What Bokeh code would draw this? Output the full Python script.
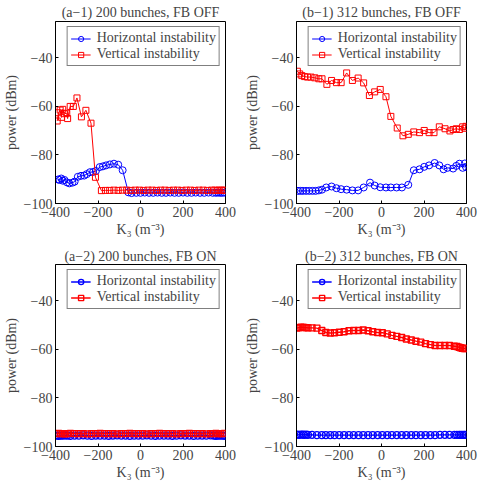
from bokeh.plotting import figure
from bokeh.layouts import column, row
from bokeh.models import Range1d, FixedTicker
from bokeh.embed import file_html
from bokeh.resources import INLINE

FONT = "Liberation Serif"

# ---------------- data ----------------
titles = ["(a\u22121) 200 bunches, FB OFF", "(b\u22121) 312 bunches, FB OFF",
          "(a\u22122) 200 bunches, FB ON", "(b\u22122) 312 bunches, FB ON"]
series_names = ["Horizontal instability", "Vertical instability"]

x_ticks = [-400, -200, 0, 200, 400]
x_tick_labels = ["\u2212400", "\u2212200", "0", "200", "400"]
y_ticks = [-100, -80, -60, -40]
y_tick_labels = ["\u2212100", "\u221280", "\u221260", "\u221240"]
x_label = "K\u2083 (m\u207b\u00b3)"
y_label = "power (dBm)"

# (a-1) 200 bunches, FB OFF
a1_h_k = [-388, -381, -373, -366, -358, -346, -335, -320, -310, -295, -280, -265,
          -253, -238, -223, -210, -192, -177, -162, -144, -125, -105, -84, -57,
          -42, -20, 0, 20, 40, 60, 80, 100, 120, 140, 160, 180, 200, 220, 240,
          260, 280, 300, 320, 340, 355, 365, 375, 385, 395]
a1_h_p = [-90.1, -90.3, -89.7, -90.6, -90.3, -91.3, -91.7, -91.4, -91.0, -89.0,
          -88.6, -88.5, -87.9, -87.1, -87.0, -86.6, -85.0, -84.7, -84.3, -83.9,
          -83.6, -84.0, -86.3, -95.4, -95.7, -95.6, -95.6, -95.5, -95.6, -95.6,
          -95.5, -95.6, -95.6, -95.5, -95.6, -95.6, -95.5, -95.6, -95.6, -95.5,
          -95.6, -95.6, -95.5, -95.6, -95.6, -95.5, -95.6, -95.6, -95.5]
a1_v_k = [-392, -386, -378, -372, -366, -358, -347, -343, -331, -316, -299, -278,
          -257, -233, -212, -184, -165, -145, -125, -105, -85, -65, -45, -25, -5,
          15, 35, 55, 75, 95, 115, 135, 155, 175, 195, 215, 235, 255, 275, 295,
          315, 335, 350, 360, 370, 380, 390, 397]
a1_v_p = [-66.0, -62.6, -61.5, -64.5, -61.2, -63.0, -62.8, -65.0, -60.0, -60.0,
          -56.5, -64.3, -61.6, -66.9, -89.2, -94.7, -94.6, -94.6, -94.5, -94.6,
          -94.5, -94.5, -94.6, -94.5, -94.5, -94.6, -94.5, -94.5, -94.6, -94.5,
          -94.5, -94.6, -94.5, -94.5, -94.6, -94.5, -94.5, -94.6, -94.5, -94.5,
          -94.6, -94.5, -94.5, -94.6, -94.5, -94.5, -94.6, -94.5]

# (b-1) 312 bunches, FB OFF
b1_h_k = [-393, -381, -370, -355, -340, -325, -310, -295, -280, -260, -235, -212,
          -190, -164, -137, -110, -84, -54, -32, -6, 21, 44, 71, 96, 126, 152,
          179, 201, 224, 250, 272, 292, 311, 337, 352, 367, 382, 392, 398]
b1_h_p = [-94.8, -94.8, -94.8, -94.8, -94.8, -94.8, -94.8, -94.6, -94.3, -93.4,
          -93.0, -93.7, -94.1, -94.3, -94.6, -94.6, -93.4, -91.4, -92.6, -93.3,
          -93.4, -93.4, -93.4, -93.4, -92.3, -86.3, -85.9, -84.9, -84.3, -83.3,
          -84.3, -85.9, -85.3, -85.6, -84.5, -83.6, -85.3, -83.5, -85.0]
b1_v_k = [-396, -385, -375, -362, -348, -332, -314, -295, -280, -257, -235, -212,
          -190, -164, -137, -110, -84, -57, -32, -6, 21, 44, 74, 101, 126, 152,
          179, 201, 224, 247, 272, 299, 322, 337, 352, 367, 382, 392, 398]
b1_v_p = [-45.5, -46.6, -47.3, -47.7, -47.9, -47.9, -48.2, -48.6, -48.6, -50.9,
          -49.3, -50.2, -50.2, -46.2, -49.3, -48.3, -50.3, -55.5, -54.0, -53.0,
          -56.0, -64.1, -68.9, -72.1, -71.5, -70.5, -70.8, -69.9, -70.8, -70.8,
          -68.4, -69.2, -70.1, -69.5, -69.2, -69.5, -68.4, -69.0, -68.2]

# (a-2) 200 bunches, FB ON
a2_k = [-395, -385, -375, -365, -355, -345, -330, -310, -290, -270, -250, -230,
        -210, -190, -170, -150, -130, -110, -90, -70, -50, -30, -10, 10, 30, 50,
        70, 90, 110, 130, 150, 170, 190, 210, 230, 250, 270, 290, 310, 330, 345,
        355, 365, 375, 385, 395]
a2_h_p = [-95.5, -95.6, -95.5, -95.5, -95.4, -95.5, -95.6, -95.5, -95.5, -95.4,
          -95.5, -95.6, -95.5, -95.5, -95.5, -95.6, -95.5, -95.4, -95.5, -95.5,
          -95.6, -95.5, -95.5, -95.5, -95.4, -95.5, -95.6, -95.5, -95.5, -95.5,
          -95.6, -95.5, -95.4, -95.5, -95.5, -95.6, -95.5, -95.5, -95.5, -95.4,
          -95.5, -95.6, -95.5, -95.5, -95.5, -95.6]
a2_v_p = [-94.7, -94.6, -94.7, -94.7, -94.8, -94.7, -94.6, -94.7, -94.7, -94.7,
          -94.8, -94.7, -94.7, -94.6, -94.7, -94.7, -94.7, -94.8, -94.7, -94.7,
          -94.6, -94.7, -94.7, -94.7, -94.8, -94.7, -94.7, -94.6, -94.7, -94.7,
          -94.7, -94.8, -94.7, -94.7, -94.6, -94.7, -94.7, -94.7, -94.8, -94.7,
          -94.7, -94.6, -94.7, -94.7, -94.7, -94.6]

# (b-2) 312 bunches, FB ON
b2_k = [-397, -388, -379, -370, -364, -355, -346, -327, -304, -281, -262, -241,
        -221, -199, -176, -153, -131, -108, -86, -63, -41, -18, 4, 27, 49, 72,
        95, 117, 140, 162, 185, 207, 230, 252, 275, 298, 320, 343, 355, 365, 372,
        380, 388, 395]
b2_h_p = [-95.1, -95.2, -95.1, -95.1, -95.2, -95.1, -95.2, -95.2, -95.3, -95.3,
          -95.3, -95.3, -95.3, -95.3, -95.3, -95.3, -95.3, -95.3, -95.3, -95.3,
          -95.3, -95.3, -95.3, -95.3, -95.3, -95.3, -95.3, -95.3, -95.3, -95.3,
          -95.3, -95.3, -95.3, -95.3, -95.2, -95.2, -95.2, -95.2, -95.2, -95.2,
          -95.2, -95.2, -95.2, -95.2]
b2_v_p = [-51.2, -51.0, -50.8, -50.9, -50.95, -51.0, -51.1, -51.1, -51.2, -52.2,
          -53.0, -53.2, -53.1, -52.9, -52.7, -52.3, -52.2, -52.2, -52.0, -52.3,
          -52.7, -53.0, -53.1, -53.6, -54.2, -54.6, -55.1, -55.7, -56.1, -56.6,
          -57.0, -57.6, -58.0, -58.4, -58.4, -58.4, -58.4, -58.7, -58.8, -59.1,
          -59.3, -59.5, -59.6, -59.6]

H_COLOR = "#0000ff"
V_COLOR = "#ff0000"
FS = "14px"


def make_panel(title, hk, hp, vk, vp, bl, br, bt, bb, fh, tstand, lw):
    p = figure(frame_width=170, frame_height=fh, output_backend="svg",
               toolbar_location=None, x_range=Range1d(-400, 400),
               y_range=Range1d(-100, -25),
               min_border_left=bl, min_border_right=br,
               min_border_top=bt, min_border_bottom=bb)
    p.title.text = title
    p.title.text_font = FONT
    p.title.text_font_size = FS
    p.title.text_font_style = "normal"
    p.title.align = "center"
    p.title.standoff = tstand
    p.xgrid.visible = False
    p.ygrid.visible = False
    p.outline_line_color = "black"
    p.outline_line_width = 1
    p.outline_line_alpha = 1
    p.background_fill_color = "white"
    p.border_fill_color = "white"

    p.line(hk, hp, color=H_COLOR, line_width=lw, legend_label=series_names[0])
    p.scatter(hk, hp, marker="circle", size=7, line_color=H_COLOR,
              fill_color=None, line_width=lw, legend_label=series_names[0])
    p.line(vk, vp, color=V_COLOR, line_width=lw, legend_label=series_names[1])
    p.scatter(vk, vp, marker="square", size=6, line_color=V_COLOR,
              fill_color=None, line_width=lw, legend_label=series_names[1])

    xa = p.xaxis[0]
    ya = p.yaxis[0]
    xa.ticker = FixedTicker(ticks=x_ticks)
    ya.ticker = FixedTicker(ticks=y_ticks)
    xa.major_label_overrides = dict(zip(x_ticks, x_tick_labels))
    ya.major_label_overrides = dict(zip(y_ticks, y_tick_labels))
    xa.axis_label = x_label
    ya.axis_label = y_label
    for ax in (xa, ya):
        ax.axis_label_text_font = FONT
        ax.axis_label_text_font_size = FS
        ax.axis_label_text_font_style = "normal"
        ax.major_label_text_font = FONT
        ax.major_label_text_font_size = FS
        ax.major_tick_in = 3
        ax.major_tick_out = 0
        ax.minor_tick_line_color = None
        ax.major_label_standoff = 3
        ax.axis_label_standoff = 2
        ax.axis_line_color = "black"
        ax.major_tick_line_color = "black"

    lg = p.legend[0]
    lg.location = "top_right"
    lg.margin = 5
    lg.padding = 3
    lg.spacing = 0
    lg.label_standoff = 6
    lg.glyph_width = 20
    lg.glyph_height = 13
    lg.label_height = 13
    lg.label_text_font = FONT
    lg.label_text_font_size = FS
    lg.border_line_color = "black"
    lg.border_line_width = 1
    lg.background_fill_alpha = 1
    return p


p1 = make_panel(titles[0], a1_h_k, a1_h_p, a1_v_k, a1_v_p, 52, 16, 19, 39, 182, 4, 1)
p2 = make_panel(titles[1], b1_h_k, b1_h_p, b1_v_k, b1_v_p, 52, 12, 19, 39, 182, 4, 1)
p3 = make_panel(titles[2], a2_k, a2_h_p, a2_k, a2_v_p, 52, 16, 22, 38, 182, 1, 1.4)
p4 = make_panel(titles[3], b2_k, b2_h_p, b2_k, b2_v_p, 52, 12, 22, 38, 182, 1, 1.4)

layout = column(row(p1, p2), row(p3, p4))
open("out.html", "w").write(file_html(layout, INLINE))
